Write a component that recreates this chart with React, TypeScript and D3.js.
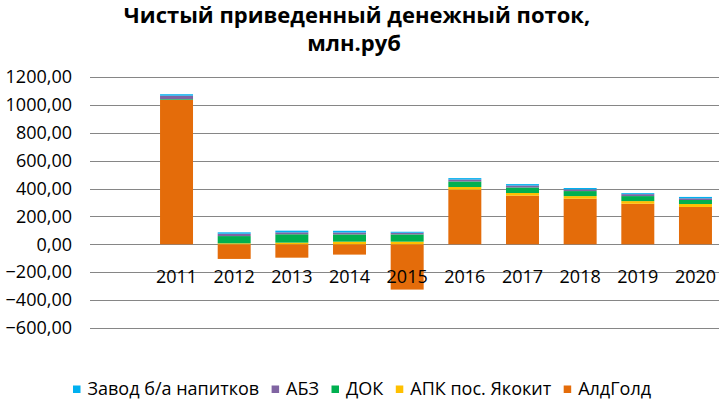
import React, { useEffect, useRef } from 'react';
import * as d3 from 'd3';

const years = ['2011', '2012', '2013', '2014', '2015', '2016', '2017', '2018', '2019', '2020'];
const seriesNames = ['АлдГолд', 'АПК пос. Якокит', 'ДОК', 'АБЗ', 'Завод б/а напитков'];
const seriesColors = ['#E46C0A', '#FFC000', '#00B050', '#8064A2', '#00B0F0'];

const aldGold = [1037, -105, -96, -74, -325, 392, 349, 327, 291, 268];
const apk = [0, 7, 12, 19, 19, 19, 19, 19, 19, 21];
const dok = [5, 52, 60, 52, 52, 40, 40, 36, 36, 29];
const abz = [25, 17, 14, 14, 12, 14, 14, 12, 14, 12];
const zavod = [10, 10, 12, 12, 7, 10, 10, 10, 7, 10];

const yTicks = [-600, -400, -200, 0, 200, 400, 600, 800, 1000, 1200];
const legendOrder = [4, 3, 2, 1, 0];

const W = 719;
const H = 399;
const FONT = '"Open Sans", sans-serif';

const App: React.FC = () => {
  const svgRef = useRef<SVGSVGElement>(null);

  useEffect(() => {
    if (!svgRef.current) return;
    const svg = d3.select(svgRef.current);
    svg.selectAll('*').remove();

    const rows = years.map((year, i) => ({
      year,
      [seriesNames[0]]: aldGold[i],
      [seriesNames[1]]: apk[i],
      [seriesNames[2]]: dok[i],
      [seriesNames[3]]: abz[i],
      [seriesNames[4]]: zavod[i],
    }));

    const stacked = d3.stack<any>()
      .keys(seriesNames)
      .offset(d3.stackOffsetDiverging)(rows);

    const x = d3.scaleBand<string>()
      .domain(years)
      .range([147.7, 724.3])
      .paddingInner(0.428)
      .paddingOuter(0.214);

    const y = d3.scaleLinear()
      .domain([-600, 1200])
      .range([327.9, 77.1]);

    // gridlines
    svg.append('g')
      .selectAll('line')
      .data(yTicks)
      .join('line')
      .attr('x1', 90)
      .attr('x2', W)
      .attr('y1', d => Math.round(y(d)) + 0.5)
      .attr('y2', d => Math.round(y(d)) + 0.5)
      .attr('stroke', '#868686')
      .attr('stroke-width', 1);

    // y tick labels
    svg.append('g')
      .selectAll('text')
      .data(yTicks)
      .join('text')
      .attr('x', 72)
      .attr('y', d => y(d))
      .attr('dy', '0.35em')
      .attr('text-anchor', 'end')
      .attr('font-family', FONT)
      .attr('font-size', 18)
      .attr('fill', '#000')
      .text(d => d3.format('.2f')(d).replace('.', ','));

    // stacked bars
    svg.append('g')
      .selectAll('g')
      .data(stacked)
      .join('g')
      .attr('fill', (_, i) => seriesColors[i])
      .selectAll('rect')
      .data(d => d)
      .join('rect')
      .attr('x', d => x(d.data.year)!)
      .attr('width', x.bandwidth())
      .attr('y', d => y(Math.max(d[0], d[1])))
      .attr('height', d => Math.abs(y(d[0]) - y(d[1])));

    // category labels
    svg.append('g')
      .selectAll('text')
      .data(years)
      .join('text')
      .attr('x', d => x(d)! + x.bandwidth() / 2)
      .attr('y', 283)
      .attr('text-anchor', 'middle')
      .attr('font-family', FONT)
      .attr('font-size', 18)
      .attr('fill', '#000')
      .text(d => d);

    // title
    const title = svg.append('text')
      .attr('text-anchor', 'middle')
      .attr('font-family', FONT)
      .attr('font-weight', 'bold')
      .attr('font-size', 22)
      .attr('fill', '#000');
    title.append('tspan').attr('x', 357).attr('y', 23).text('Чистый приведенный денежный поток,');
    title.append('tspan').attr('x', 354).attr('y', 51).text('млн.руб');

    // legend
    const legend = svg.append('g').attr('transform', 'translate(73,389)');
    let cx = 0;
    legendOrder.forEach(i => {
      const item = legend.append('g').attr('transform', `translate(${cx},0)`);
      item.append('rect')
        .attr('x', 0)
        .attr('y', -3.5)
        .attr('width', 7.5)
        .attr('height', 7.5)
        .attr('fill', seriesColors[i]);
      const t = item.append('text')
        .attr('x', 14.5)
        .attr('y', 0)
        .attr('dy', '0.35em')
        .attr('font-family', FONT)
        .attr('font-size', 18)
        .attr('fill', '#000')
        .text(seriesNames[i]);
      const w = (t.node() as SVGTextElement).getComputedTextLength();
      cx += 14.5 + w + 12.5;
    });
  }, []);

  return (
    <svg
      ref={svgRef}
      width={W}
      height={H}
      style={{ position: 'absolute', left: 0, top: 0, background: '#fff' }}
    />
  );
};

export default App;
